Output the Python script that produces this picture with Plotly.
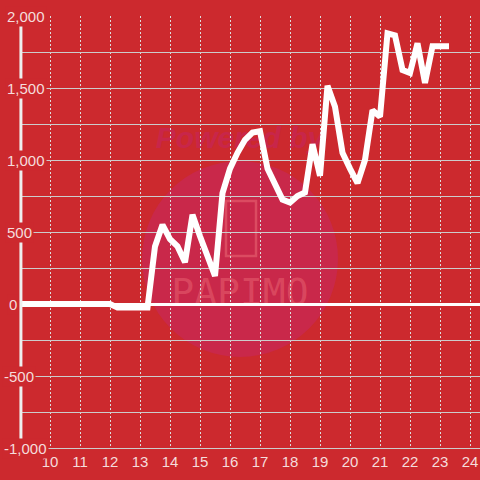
import plotly.graph_objects as go

# ---- data ----
hours = [9, 12, 12.25, 13.25, 13.5, 13.75, 14.0, 14.25, 14.5, 14.75, 15.0, 15.25,
         15.5, 15.75, 16.0, 16.25, 16.5, 16.75, 17.0, 17.25, 17.5, 17.75, 18.0,
         18.25, 18.5, 18.75, 19.0, 19.25, 19.5, 19.75, 20.0, 20.25, 20.5, 20.75,
         21.0, 21.25, 21.5, 21.75, 22.0, 22.25, 22.5, 22.75, 23.0, 23.3]
values = [0, 0, -25, -25, 400, 550, 450, 400, 290, 620, 470, 320,
          195, 770, 940, 1050, 1140, 1190, 1200, 940, 830, 725, 705,
          750, 775, 1110, 890, 1515, 1370, 1050, 940, 840, 1000, 1345,
          1300, 1880, 1865, 1625, 1605, 1810, 1535, 1790, 1790, 1790]
x_ticks = list(range(10, 25))
y_tick_vals = [2000, 1500, 1000, 500, 0, -500, -1000]
y_tick_text = ["2,000", "1,500", "1,000", "500", "0", "-500", "-1,000"]

BG = "#cc292e"
LABEL = "#f5dcdc"

W, H = 480, 480
L, R, T, B = 20, 0, 16, 32
pw, ph = W - L - R, H - T - B


def px(x):
    return (x - L) / pw


def py(y):
    return (H - B - y) / ph


fig = go.Figure()
fig.add_trace(go.Scatter(x=hours, y=values, mode="lines",
                         line=dict(color="#ffffff", width=6),
                         hoverinfo="skip", showlegend=False))

shapes = []
# watermark circle
shapes.append(dict(type="circle", xref="paper", yref="paper",
                   x0=px(142), x1=px(338), y0=py(357), y1=py(161),
                   fillcolor="#c9284a", line=dict(width=0), layer="below"))
# phone icon outline
shapes.append(dict(type="rect", xref="paper", yref="paper",
                   x0=px(226), x1=px(256), y0=py(256), y1=py(201),
                   line=dict(color="rgba(238,110,120,0.5)", width=2.5),
                   fillcolor="rgba(0,0,0,0)", layer="below"))
# watermark texts
shapes.append(dict(type="rect", xref="paper", yref="paper",
                   x0=px(140), x1=px(340), y0=py(150), y1=py(118),
                   line=dict(width=0), fillcolor="rgba(0,0,0,0)", layer="below",
                   label=dict(text="<b><i>Powered by</i></b>", textposition="middle center",
                              font=dict(size=30, color="#c8264a",
                                        family="Liberation Sans"))))
shapes.append(dict(type="rect", xref="paper", yref="paper",
                   x0=px(160), x1=px(320), y0=py(308), y1=py(270),
                   line=dict(width=0), fillcolor="rgba(0,0,0,0)", layer="below",
                   label=dict(text="PAPIMO", textposition="middle center",
                              font=dict(size=38, color="rgba(238,110,120,0.45)",
                                        family="DejaVu Sans Mono"))))
# y axis thick line
shapes.append(dict(type="line", xref="paper", yref="paper",
                   x0=0.002, x1=0.002, y0=0, y1=1,
                   line=dict(color="#eeeeee", width=3), layer="above"))

annotations = []
for v, t in zip(y_tick_vals, y_tick_text):
    left = 2 if v < 0 else 5
    if t == "0":
        left = 7
    ann = dict(text=t, xref="paper", yref="y", x=px(left), y=v,
               xanchor="left", yanchor="middle", showarrow=False,
               font=dict(size=15, color=LABEL, family="Liberation Sans"),
               bgcolor=BG, borderpad=1)
    annotations.append(ann)

fig.update_layout(
    width=W, height=H,
    margin=dict(l=L, r=R, t=T, b=B, autoexpand=False),
    paper_bgcolor=BG, plot_bgcolor=BG,
    shapes=shapes, annotations=annotations,
    showlegend=False,
    xaxis=dict(range=[9, 9 + pw / 30], tickvals=x_ticks,
               showgrid=True, gridcolor="#dddddd", griddash="2px,2px", gridwidth=1,
               showline=True, linecolor="#cccccc", linewidth=1,
               zeroline=False, ticks="", automargin=False,
               tickfont=dict(size=15, color=LABEL, family="Liberation Sans")),
    yaxis=dict(range=[-1000, 2000], dtick=250, tick0=0,
               showgrid=True, gridcolor="#cccccc", gridwidth=1, automargin=False,
               showticklabels=False, ticks="", showline=False,
               zeroline=True, zerolinecolor="#ffffff", zerolinewidth=3),
)

fig.write_html("out.html", config={"displayModeBar": False},
               post_script="document.body.style.margin='0';document.body.style.overflow='hidden';")
